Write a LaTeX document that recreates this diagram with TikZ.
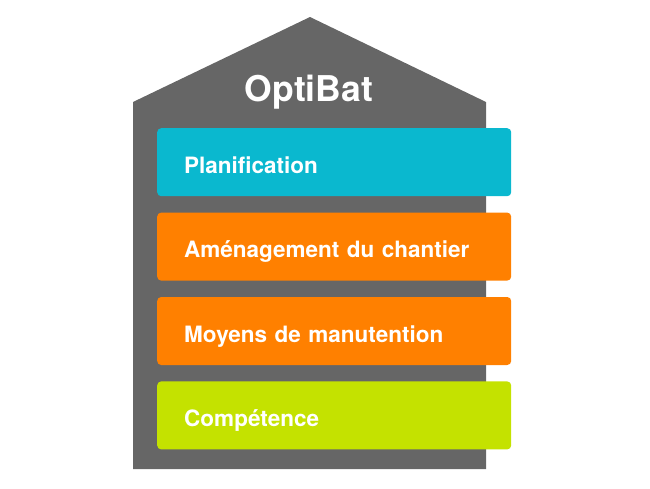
\documentclass[tikz,border=0pt]{standalone}
\usepackage{fontspec}
\setmainfont{TeX Gyre Heros}
\usetikzlibrary{positioning}
\definecolor{housegray}{HTML}{666666}
\definecolor{planblue}{HTML}{0AB8CF}
\definecolor{siteorange}{HTML}{FF8000}
\definecolor{skillgreen}{HTML}{C4E200}
\tikzset{
  housebody/.style={fill=housegray,draw=none},
  pillar/.style={rounded corners=4pt,draw=none,inner xsep=27pt,inner ysep=0pt,
    text width=300pt,align=left,minimum height=68pt,text height=24pt,text depth=2pt,
    text=white,font=\bfseries\fontsize{22.5}{26}\selectfont},
  housetitle/.style={text=white,font=\bfseries\fontsize{35.5}{40}\selectfont},
}
\begin{document}
\begin{tikzpicture}[x=1pt,y=-1pt,node distance=16pt]

\useasboundingbox (0,0) rectangle (650,488);

% house
\draw[housebody] (133,469) -- (133,102) -- (310,17) -- (486,102) -- (486,469) -- cycle;
\node[housetitle,anchor=base] (title) at (309,101) {OptiBat};

% pillars
\node[pillar,fill=planblue,anchor=north west] (plan) at (157,128) {Planification};
\node[pillar,fill=siteorange,below=of plan] (site) {Aménagement du chantier};
\node[pillar,fill=siteorange,below=of site] (lift) {Moyens de manutention};
\node[pillar,fill=skillgreen,below=of lift] (skill) {Compétence};

\end{tikzpicture}
\end{document}
